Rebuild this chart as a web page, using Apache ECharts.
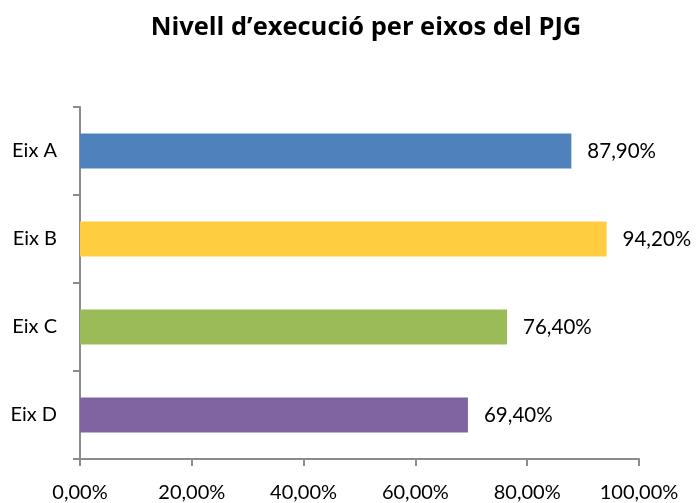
<!DOCTYPE html>
<html><head><meta charset="utf-8">
<script src="https://cdn.jsdelivr.net/npm/echarts@6/dist/echarts.min.js"></script>
<style>html,body{margin:0;padding:0;background:#fff}#c{width:697px;height:503px}</style>
</head><body><div id="c"></div>
<script>
const categories = ['Eix A', 'Eix B', 'Eix C', 'Eix D'];
const values = [87.9, 94.2, 76.4, 69.4];
const tickValues = [0, 20, 40, 60, 80, 100];
const barColors = ['#4F81BD', '#FFCD3F', '#9BBB59', '#8064A2'];
const fmt = v => v.toFixed(2).replace('.', ',') + '%';
const FONT = 'Lato';
const chart = echarts.init(document.getElementById('c'), null, {renderer: 'canvas'});
chart.setOption({
  animation: false,
  backgroundColor: '#fff',
  title: {
    text: 'Nivell d\u2019execució per eixos del PJG',
    left: 361, top: 10, textAlign: 'center',
    textStyle: {fontFamily: 'Open Sans', fontWeight: 'bold', fontSize: 25.5, color: '#000'}
  },
  grid: {left: 80, right: 58, top: 107, bottom: 40, containLabel: false},
  xAxis: {
    type: 'value', min: tickValues[0], max: tickValues[tickValues.length - 1], interval: 20,
    axisLine: {show: true, lineStyle: {color: '#8c8c8c', width: 2}},
    axisTick: {show: true, length: 7, lineStyle: {color: '#8c8c8c', width: 2}},
    splitLine: {show: false},
    axisLabel: {margin: 24, fontFamily: FONT, fontSize: 20, color: '#000', formatter: v => fmt(v)}
  },
  yAxis: {
    type: 'category', data: categories, inverse: true,
    axisLine: {show: true, lineStyle: {color: '#8c8c8c', width: 2}},
    axisTick: {show: true, length: 7, alignWithLabel: false, lineStyle: {color: '#8c8c8c', width: 2}},
    axisLabel: {margin: 23, fontFamily: FONT, fontSize: 20, color: '#000'}
  },
  series: [{
    type: 'bar',
    barWidth: 35,
    data: values.map((v, i) => ({value: v, itemStyle: {color: barColors[i]}})),
    label: {show: true, position: 'right', distance: 16, fontFamily: FONT, fontSize: 20.5, color: '#000',
      formatter: p => fmt(p.value)}
  }]
});
</script></body></html>
